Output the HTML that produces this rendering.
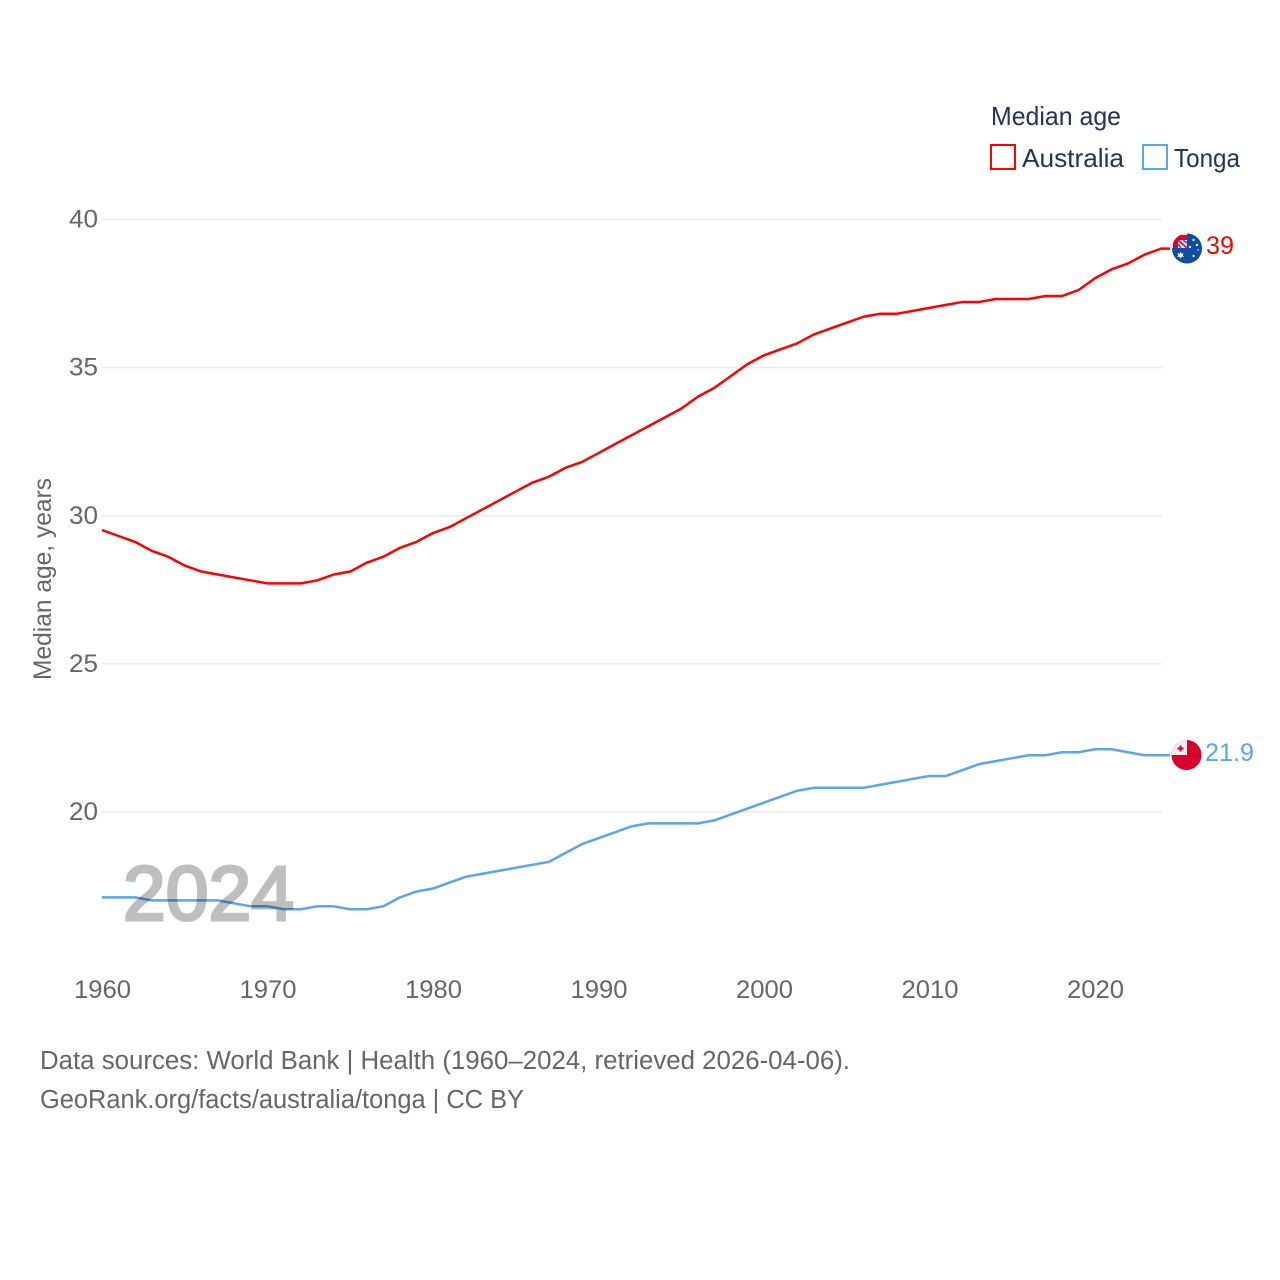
<!DOCTYPE html>
<html lang="en">
<head>
<meta charset="utf-8">
<title>Median age: Australia and Tonga</title>
<style>
html,body{margin:0;padding:0;background:#fff;}
svg{display:block;}
text{font-family:"Liberation Sans",sans-serif;}
</style>
</head>
<body>
<svg id="chart" xmlns="http://www.w3.org/2000/svg" width="1280" height="1280" viewBox="0 0 1280 1280">
  <rect width="1280" height="1280" fill="#fff"/>
  <g id="grid"></g>
  <g id="yticks"></g>
  <g id="xticks"></g>
  <text transform="translate(51,680) rotate(-90)" font-size="25" fill="#666" textLength="202" lengthAdjust="spacingAndGlyphs">Median age, years</text>

  <g id="series" transform="translate(0,-0.5)"></g>

  <text x="123" y="920" font-size="77" fill="#000" stroke="#000" stroke-width="3" opacity="0.25" textLength="171" lengthAdjust="spacingAndGlyphs">2024</text>

  <defs>
    <clipPath id="clip-au"><circle cx="1187" cy="248.5" r="15"/></clipPath>
    <clipPath id="clip-to"><circle cx="1186.5" cy="755" r="15"/></clipPath>
  </defs>
  <g clip-path="url(#clip-au)">
    <rect x="1172" y="233" width="30" height="31" fill="#0b4ea2"/>
    <rect x="1172" y="233" width="15" height="15" fill="#f0e6ec"/>
    <path d="M1175.5 248V237.5H1188" stroke="#e4002b" stroke-width="5" fill="none"/>
    <path d="M1178 240l9 8" stroke="#d8264a" stroke-width="2"/>
    <path d="M1183 240l4 3M1178 244l3 4" stroke="#3a5aa8" stroke-width="1.6"/>
    <path d="M1180.5 251.5l.9 2.2 2.4-.6-1.3 2 1.6 1.8-2.4-.3-1.2 2-1.2-2-2.4.3 1.6-1.8-1.3-2 2.4.6z" fill="#fff"/>
    <circle cx="1190" cy="247" r="1.2" fill="#dfe8f5"/>
    <circle cx="1197" cy="245" r="1.2" fill="#dfe8f5"/>
    <circle cx="1193.5" cy="240" r="1.2" fill="#dfe8f5"/>
    <circle cx="1193.5" cy="256" r="1.2" fill="#dfe8f5"/>
    <circle cx="1198" cy="250" r=".8" fill="#dfe8f5"/>
  </g>
  <g clip-path="url(#clip-to)">
    <rect x="1171" y="740" width="31" height="31" fill="#d8002c"/>
    <rect x="1171" y="740" width="16" height="15" fill="#eeeeee"/>
    <path d="M1180.5 745.5v6M1177.5 748.5h6" stroke="#d8002c" stroke-width="2"/>
  </g>

  <g>
    <text x="991" y="125" font-size="26" fill="#1d3557" textLength="130" lengthAdjust="spacingAndGlyphs">Median age</text>
    <rect x="991" y="145" width="24" height="24" fill="none" stroke="#ff0000" stroke-width="2"/>
    <text x="1022" y="167" font-size="26" fill="#1d3557" textLength="102" lengthAdjust="spacingAndGlyphs">Australia</text>
    <rect x="1143" y="145" width="24" height="24" fill="none" stroke="#5ba4ee" stroke-width="2"/>
    <text x="1174" y="167" font-size="26" fill="#1d3557" textLength="66" lengthAdjust="spacingAndGlyphs">Tonga</text>
  </g>

  <text x="1206" y="254" font-size="25" fill="#ff0000" textLength="28" lengthAdjust="spacingAndGlyphs">39</text>
  <text x="1205" y="761" font-size="25" fill="#5ba4ee" textLength="49" lengthAdjust="spacingAndGlyphs">21.9</text>

  <text x="40" y="1069" font-size="25.5" fill="#666" textLength="810" lengthAdjust="spacingAndGlyphs">Data sources: World Bank | Health (1960–2024, retrieved 2026-04-06).</text>
  <a><text x="40" y="1108" font-size="25.5" fill="#666" textLength="484" lengthAdjust="spacingAndGlyphs">GeoRank.org/facts/australia/tonga | CC BY</text></a>
</svg>
<script>
const years = [1960,1961,1962,1963,1964,1965,1966,1967,1968,1969,1970,1971,1972,1973,1974,1975,1976,1977,1978,1979,1980,1981,1982,1983,1984,1985,1986,1987,1988,1989,1990,1991,1992,1993,1994,1995,1996,1997,1998,1999,2000,2001,2002,2003,2004,2005,2006,2007,2008,2009,2010,2011,2012,2013,2014,2015,2016,2017,2018,2019,2020,2021,2022,2023,2024];
const australia = [29.5,29.3,29.1,28.8,28.6,28.3,28.1,28.0,27.9,27.8,27.7,27.7,27.7,27.8,28.0,28.1,28.4,28.6,28.9,29.1,29.4,29.6,29.9,30.2,30.5,30.8,31.1,31.3,31.6,31.8,32.1,32.4,32.7,33.0,33.3,33.6,34.0,34.3,34.7,35.1,35.4,35.6,35.8,36.1,36.3,36.5,36.7,36.8,36.8,36.9,37.0,37.1,37.2,37.2,37.3,37.3,37.3,37.4,37.4,37.6,38.0,38.3,38.5,38.8,39.0];
const tonga = [17.1,17.1,17.1,17.0,17.0,17.0,17.0,17.0,16.9,16.8,16.8,16.7,16.7,16.8,16.8,16.7,16.7,16.8,17.1,17.3,17.4,17.6,17.8,17.9,18.0,18.1,18.2,18.3,18.6,18.9,19.1,19.3,19.5,19.6,19.6,19.6,19.6,19.7,19.9,20.1,20.3,20.5,20.7,20.8,20.8,20.8,20.8,20.9,21.0,21.1,21.2,21.2,21.4,21.6,21.7,21.8,21.9,21.9,22.0,22.0,22.1,22.1,22.0,21.9,21.9];
const yTickValues = [40,35,30,25,20];
const xTickValues = [1960,1970,1980,1990,2000,2010,2020];

const NS = 'http://www.w3.org/2000/svg';
function xScale(year){ return 102 + (year - 1960) * 16.55; }
function yScale(v){ return 812 - (v - 20) * (812 - 219.5) / 20; }

const gridGroup = document.getElementById('grid');
const yGroup = document.getElementById('yticks');
yTickValues.forEach(function(v){
  const line = document.createElementNS(NS, 'line');
  
  
  line.setAttribute('x1', xScale(1960));
  line.setAttribute('x2', 1162);
  line.setAttribute('y1', yScale(v));
  line.setAttribute('y2', yScale(v));
  line.setAttribute('stroke', '#ebebeb');
  line.setAttribute('stroke-width', '1.5');
  gridGroup.appendChild(line);
  const label = document.createElementNS(NS, 'text');
  
  
  label.setAttribute('x', 69);
  label.setAttribute('y', yScale(v) + 8);
  label.setAttribute('textLength', '29');
  label.setAttribute('lengthAdjust', 'spacingAndGlyphs');
  label.setAttribute('font-size', '25');
  label.setAttribute('fill', '#666');
  label.textContent = v;
  yGroup.appendChild(label);
});

const xGroup = document.getElementById('xticks');
xTickValues.forEach(function(y){
  const label = document.createElementNS(NS, 'text');
  
  
  label.setAttribute('x', xScale(y) - 28);
  label.setAttribute('y', 998);
  label.setAttribute('textLength', '57');
  label.setAttribute('lengthAdjust', 'spacingAndGlyphs');
  label.setAttribute('font-size', '25');
  label.setAttribute('fill', '#666');
  label.textContent = y;
  xGroup.appendChild(label);
});

const seriesGroup = document.getElementById('series');
function drawSeries(values, color, name){
  const pts = values.map(function(v, i){ return xScale(years[i]).toFixed(2) + ',' + yScale(v).toFixed(2); });
  const last = values[values.length - 1];
  pts.push((xScale(2024) + 9).toFixed(2) + ',' + yScale(last).toFixed(2));
  const line = document.createElementNS(NS, 'polyline');
  
  
  line.setAttribute('points', pts.join(' '));
  line.setAttribute('fill', 'none');
  line.setAttribute('stroke', color);
  line.setAttribute('stroke-width', '2.5');
  line.setAttribute('stroke-linejoin', 'round');
  seriesGroup.appendChild(line);
}
drawSeries(australia, '#ff0000', 'australia-line');
drawSeries(tonga, '#5ba4ee', 'tonga-line');
</script>
</body>
</html>
